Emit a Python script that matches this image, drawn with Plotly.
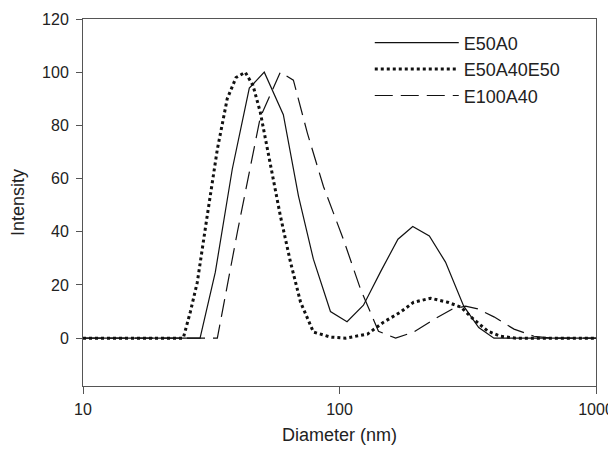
import plotly.graph_objects as go

# E50A0 (solid)
d_solid = [10, 28.6, 32.8, 38.2, 44.5, 50.9, 60.4, 69.2, 79.1, 92.2, 107, 124, 145, 169, 193, 224, 259, 305, 349, 400, 1000]
i_solid = [0, 0, 24.8, 63.6, 94, 100, 84, 53.4, 29.7, 10, 6.2, 12.4, 25.2, 37.2, 42, 38.4, 28.6, 12, 4, 0, 0]

# E50A40E50 (dotted)
d_dot = [10, 24.6, 26.2, 27.9, 30.5, 33.4, 36.5, 39.5, 42.9, 46.0, 49.1, 53.7, 58.8, 64.4, 70.5, 79.1, 92.2, 105.5,
         128.5, 148.5, 173, 194.5, 226.5, 264, 297, 334, 379, 425, 487, 1000]
i_dot = [0, 0, 9.8, 21, 46, 71, 90, 98, 100, 95, 85, 65, 46, 28.6, 13.5, 2.3, 0.4, 0,
         1.5, 6, 9.8, 13.5, 15, 13.5, 11.7, 7, 2.6, 0.7, 0, 0]

# E100A40 (dashed)
d_dash = [10, 33.4, 40.0, 49.1, 58.8, 66.1, 75.0, 86.6, 103.7, 120.8, 141.9, 165.5, 194.5, 232.9, 276, 310, 346, 400, 479, 573, 667, 1000]
i_dash = [0, 0, 40, 83, 100, 97, 77, 57, 37, 18.4, 2.6, 0, 2.3, 7, 11, 12, 11, 8, 3.4, 0.7, 0, 0]

y_ticks = [0, 20, 40, 60, 80, 100, 120]
x_ticks = [10, 100, 1000]

fig = go.Figure()
fig.add_trace(go.Scatter(x=d_solid, y=i_solid, mode="lines", name="E50A0",
                         line=dict(color="#111111", width=1.2, dash="solid")))
fig.add_trace(go.Scatter(x=d_dot, y=i_dot, mode="lines", name="E50A40E50",
                         line=dict(color="#111111", width=3, dash="3px,3px")))
fig.add_trace(go.Scatter(x=d_dash, y=i_dash, mode="lines", name="E100A40",
                         line=dict(color="#111111", width=1.2, dash="18px,8px")))

fam = "Liberation Sans, Arial, sans-serif"
font = dict(family=fam, size=16, color="#222222")
fig.update_layout(
    width=616, height=453,
    margin=dict(l=75, r=28, t=11, b=75),
    paper_bgcolor="white", plot_bgcolor="white",
    font=font,
    showlegend=True,
    legend=dict(x=0.559, y=0.985, xanchor="left", yanchor="top", bgcolor="rgba(0,0,0,0)",
                font=dict(family=fam, size=18, color="#222222"),
                itemwidth=84, tracegroupgap=0),
)
fig.update_xaxes(type="log", range=[1, 3], tickvals=x_ticks, ticktext=[str(v) for v in x_ticks],
                 showline=True, linecolor="#555555", linewidth=1, mirror=True, automargin=False,
                 ticks="outside", ticklen=7, tickcolor="#555555", showgrid=False, zeroline=False,
                 tickfont=dict(size=16),
                 title=dict(text="Diameter (nm)", standoff=11, font=dict(size=18)), ticklabelstandoff=2)
fig.update_yaxes(range=[-18, 120], tickvals=y_ticks,
                 showline=True, linecolor="#555555", linewidth=1, mirror=True, automargin=False,
                 ticks="outside", ticklen=6, tickcolor="#555555", showgrid=False, zeroline=False,
                 tickfont=dict(size=16),
                 title=dict(text="Intensity", standoff=15, font=dict(size=18)), ticklabelstandoff=4)

fig.write_html("out.html")
